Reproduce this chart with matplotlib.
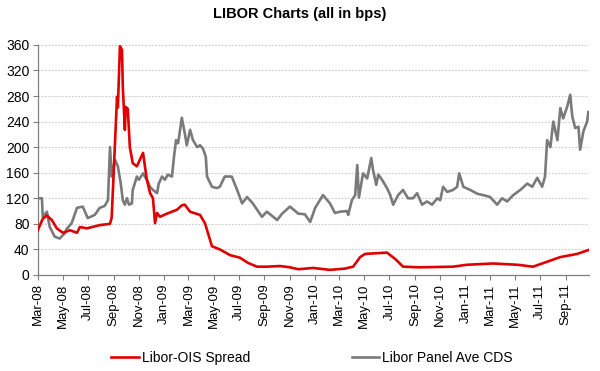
import matplotlib
matplotlib.use("Agg")
import matplotlib.pyplot as plt
import matplotlib.dates as mdates
import pandas as pd

plt.rcParams['font.family'] = ['Liberation Sans', 'DejaVu Sans']

title = "LIBOR Charts (all in bps)"
series_names = ["Libor-OIS Spread", "Libor Panel Ave CDS"]

ois_dates = [
    "2008-03-01", "2008-03-13", "2008-03-23", "2008-04-04", "2008-04-16", "2008-05-01",
    "2008-05-18", "2008-06-04", "2008-06-11", "2008-06-28", "2008-07-29", "2008-08-23",
    "2008-08-27", "2008-08-30", "2008-09-09", "2008-09-11", "2008-09-16", "2008-09-21",
    "2008-09-23", "2008-09-28", "2008-09-30", "2008-10-05", "2008-10-10", "2008-10-17",
    "2008-10-27", "2008-11-03", "2008-11-11", "2008-11-20", "2008-11-28", "2008-12-05",
    "2008-12-10", "2008-12-15", "2008-12-22", "2009-01-08", "2009-02-01", "2009-02-13",
    "2009-02-20", "2009-03-05", "2009-03-29", "2009-04-10", "2009-04-27", "2009-05-16",
    "2009-06-10", "2009-07-04", "2009-07-23", "2009-08-14", "2009-09-07", "2009-10-09",
    "2009-11-02", "2009-11-22", "2009-12-28", "2010-02-07", "2010-03-15", "2010-04-04",
    "2010-04-21", "2010-05-03", "2010-06-25", "2010-07-15", "2010-08-03", "2010-09-13",
    "2010-12-02", "2011-01-05", "2011-03-09", "2011-05-07", "2011-06-14", "2011-07-06",
    "2011-08-19", "2011-09-29", "2011-10-26",
]
ois_values = [
    70, 88, 93, 86, 73, 66,
    70, 66, 75, 73, 78, 80,
    90, 133, 279, 262, 358, 352,
    294, 227, 263, 260, 200, 175,
    170, 180, 191, 150, 128, 120,
    81, 97, 91, 96, 102, 109,
    110, 99, 94, 81, 45, 40,
    31, 27, 19, 13, 13, 14,
    12, 9, 11, 8, 10, 13,
    28, 33, 35, 25, 13, 12,
    13, 16, 18, 16, 13, 18,
    28, 33, 39,
]

cds_dates = [
    "2008-03-01", "2008-03-11", "2008-03-13", "2008-03-23", "2008-03-30", "2008-04-11",
    "2008-04-23", "2008-05-05", "2008-05-10", "2008-05-22", "2008-06-04", "2008-06-18",
    "2008-06-30", "2008-07-17", "2008-07-29", "2008-08-10", "2008-08-18", "2008-08-23",
    "2008-08-27", "2008-09-04", "2008-09-11", "2008-09-18", "2008-09-23", "2008-09-28",
    "2008-10-03", "2008-10-08", "2008-10-15", "2008-10-17", "2008-10-27", "2008-11-01",
    "2008-11-11", "2008-11-20", "2008-11-28", "2008-12-05", "2008-12-15", "2008-12-19",
    "2008-12-27", "2009-01-03", "2009-01-10", "2009-01-20", "2009-01-25", "2009-01-30",
    "2009-02-04", "2009-02-13", "2009-02-20", "2009-02-25", "2009-03-05", "2009-03-12",
    "2009-03-22", "2009-03-29", "2009-04-05", "2009-04-12", "2009-04-15", "2009-04-27",
    "2009-05-09", "2009-05-16", "2009-05-28", "2009-06-14", "2009-06-27", "2009-07-09",
    "2009-07-21", "2009-08-04", "2009-08-26", "2009-09-07", "2009-10-02", "2009-10-14",
    "2009-11-02", "2009-11-22", "2009-12-08", "2009-12-21", "2010-01-02", "2010-01-21",
    "2010-02-07", "2010-02-19", "2010-03-03", "2010-03-20", "2010-03-23", "2010-04-01",
    "2010-04-09", "2010-04-14", "2010-04-18", "2010-04-28", "2010-05-08", "2010-05-18",
    "2010-05-22", "2010-05-30", "2010-06-04", "2010-06-13", "2010-06-25", "2010-07-03",
    "2010-07-10", "2010-07-22", "2010-08-03", "2010-08-15", "2010-08-27", "2010-09-06",
    "2010-09-18", "2010-09-30", "2010-10-12", "2010-10-25", "2010-11-01", "2010-11-08",
    "2010-11-18", "2010-12-02", "2010-12-12", "2010-12-17", "2010-12-27", "2011-01-13",
    "2011-01-30", "2011-02-13", "2011-03-02", "2011-03-19", "2011-03-31", "2011-04-12",
    "2011-04-27", "2011-05-14", "2011-05-31", "2011-06-12", "2011-06-24", "2011-07-06",
    "2011-07-13", "2011-07-18", "2011-07-26", "2011-08-02", "2011-08-12", "2011-08-19",
    "2011-08-26", "2011-09-05", "2011-09-12", "2011-09-17", "2011-09-24", "2011-10-02",
    "2011-10-06", "2011-10-14", "2011-10-23", "2011-10-26",
]
cds_values = [
    120, 120, 91, 99, 75, 60,
    57, 65, 72, 81, 105, 107,
    89, 94, 105, 108, 117, 200,
    154, 180, 170, 143, 117, 110,
    120, 110, 112, 133, 154, 149,
    159, 149, 138, 133, 128, 143,
    154, 149, 157, 154, 185, 211,
    206, 246, 222, 203, 227, 211,
    200, 203, 198, 185, 154, 138,
    136, 138, 154, 154, 133, 112,
    122, 112, 91, 99, 86, 96,
    107, 96, 95, 83, 105, 125,
    112, 97, 99, 100, 94, 117,
    125, 172, 121, 159, 151, 183,
    165, 141, 157, 149, 136, 125,
    110, 125, 133, 120, 120, 128,
    110, 115, 110, 120, 117, 138,
    130, 133, 138, 159, 138, 133,
    127, 125, 122, 110, 120, 115,
    125, 133, 143, 138, 152, 138,
    154, 211, 200, 240, 211, 261,
    245, 264, 282, 248, 230, 232,
    196, 225, 240, 255,
]

y_ticks = [0, 40, 80, 120, 160, 200, 240, 280, 320, 360]

fig = plt.figure(figsize=(6.0, 3.71), dpi=100)
ax = fig.add_axes([0.063, 0.2588, 0.919, 0.6202])

ax.plot(pd.to_datetime(ois_dates), ois_values, color="#e00000", lw=1.9,
        label=series_names[0], zorder=3, solid_joinstyle="round")
ax.plot(pd.to_datetime(cds_dates), cds_values, color="#7a7a7a", lw=1.9,
        label=series_names[1], zorder=2, solid_joinstyle="round")

ax.set_ylim(0, 360)
ax.set_yticks(y_ticks)
ax.set_xlim(pd.Timestamp("2008-03-01"), pd.Timestamp("2011-10-28"))
ax.xaxis.set_major_locator(mdates.MonthLocator(bymonth=[1, 3, 5, 7, 9, 11]))
ax.xaxis.set_major_formatter(mdates.DateFormatter("%b-%y"))
plt.setp(ax.get_xticklabels(), rotation=90)

ax.grid(axis="y", color="#c8c8c8", linestyle=(0, (1.5, 1.5)), lw=0.8)
ax.set_axisbelow(True)
for s in ["top", "right"]:
    ax.spines[s].set_visible(False)
for s in ["left", "bottom"]:
    ax.spines[s].set_color("#808080")
    ax.spines[s].set_linewidth(0.9)
ax.tick_params(axis="both", colors="#808080", labelcolor="black",
               length=3.5, width=0.8, pad=2.5)
ax.tick_params(axis="y", labelsize=10)
ax.tick_params(axis="x", labelsize=9.5)

fig.text(0.5, 0.962, title, ha="center", va="center", fontsize=10.5, fontweight="bold")

fig.legend(loc="center", bbox_to_anchor=(0.52, 0.035), ncol=2, frameon=False,
           fontsize=10, handlelength=2.0, handletextpad=0.2, columnspacing=7.3)

fig.savefig("out.png", dpi=100)
